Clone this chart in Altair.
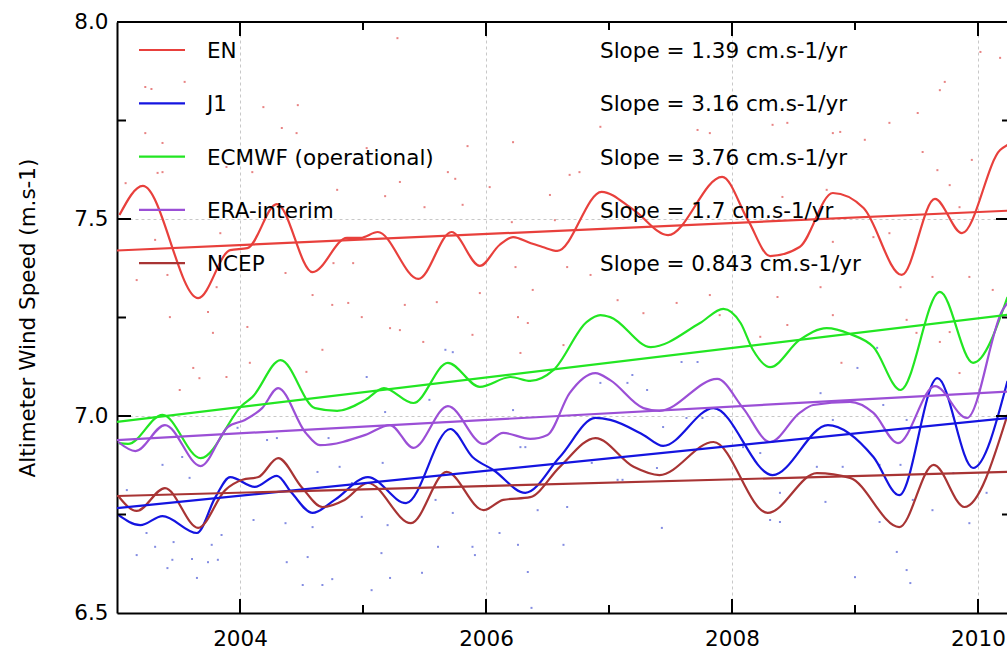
import altair as alt
import pandas as pd

# ---------------- data ----------------
series_names = ["EN", "J1", "ECMWF (operational)", "ERA-interim", "NCEP"]
series_colors = ["#e8403c", "#1414e0", "#22e622", "#9b4fd6", "#a83434"]
slope_labels = ["Slope = 1.39 cm.s-1/yr", "Slope = 3.16 cm.s-1/yr",
                "Slope = 3.76 cm.s-1/yr", "Slope = 1.7 cm.s-1/yr",
                "Slope = 0.843 cm.s-1/yr"]

en_years = [2003.02, 2003.21, 2003.66, 2003.92, 2004.06, 2004.30, 2004.59, 2004.87, 2004.98,
            2005.12, 2005.45, 2005.72, 2005.95, 2006.11, 2006.22, 2006.36, 2006.46, 2006.58,
            2006.94, 2007.20, 2007.48, 2007.92, 2008.13, 2008.31, 2008.55, 2008.82, 2009.07,
            2009.38, 2009.65, 2009.87, 2010.18, 2010.24]
en_values = [7.510, 7.584, 7.299, 7.421, 7.426, 7.538, 7.365, 7.452, 7.452,
             7.467, 7.348, 7.467, 7.381, 7.434, 7.454, 7.439, 7.429, 7.419,
             7.569, 7.523, 7.459, 7.607, 7.497, 7.406, 7.429, 7.566, 7.528,
             7.358, 7.551, 7.464, 7.675, 7.688]

j1_years = [2003.01, 2003.19, 2003.37, 2003.65, 2003.80, 2003.92, 2004.12, 2004.30, 2004.42,
            2004.59, 2004.77, 2005.04, 2005.35, 2005.71, 2005.89, 2006.06, 2006.32, 2006.60,
            2006.89, 2007.01, 2007.28, 2007.44, 2007.85, 2008.33, 2008.78, 2009.15, 2009.36,
            2009.67, 2009.96, 2010.24]
j1_values = [6.749, 6.723, 6.746, 6.703, 6.794, 6.845, 6.820, 6.848, 6.805,
             6.754, 6.787, 6.845, 6.779, 6.967, 6.896, 6.863, 6.805, 6.896,
             6.995, 6.990, 6.952, 6.924, 7.020, 6.850, 6.977, 6.896, 6.799,
             7.096, 6.868, 7.089]

ec_years = [2003.01, 2003.09, 2003.37, 2003.68, 2004.02, 2004.10, 2004.33, 2004.61, 2004.79,
            2005.02, 2005.17, 2005.41, 2005.69, 2005.95, 2006.20, 2006.36, 2006.55, 2006.82,
            2006.93, 2007.01, 2007.34, 2007.74, 2007.93, 2008.07, 2008.17, 2008.31, 2008.55,
            2008.77, 2008.96, 2009.15, 2009.37, 2009.69, 2009.96, 2010.24]
ec_values = [6.931, 6.929, 7.003, 6.893, 7.028, 7.048, 7.142, 7.020, 7.013,
             7.041, 7.071, 7.033, 7.135, 7.074, 7.099, 7.089, 7.117, 7.239,
             7.256, 7.251, 7.175, 7.236, 7.272, 7.236, 7.168, 7.124, 7.193,
             7.223, 7.208, 7.175, 7.066, 7.315, 7.135, 7.302]

era_years = [2003.01, 2003.15, 2003.39, 2003.68, 2003.90, 2004.04, 2004.18, 2004.31, 2004.53,
             2004.65, 2005.02, 2005.22, 2005.41, 2005.69, 2005.98, 2006.14, 2006.36, 2006.50,
             2006.68, 2006.89, 2007.01, 2007.28, 2007.41, 2007.88, 2008.09, 2008.31, 2008.55,
             2008.66, 2008.96, 2009.15, 2009.35, 2009.65, 2009.91, 2010.20, 2010.24]
era_values = [6.934, 6.911, 6.977, 6.873, 6.972, 6.990, 7.020, 7.071, 6.959,
              6.926, 6.952, 6.977, 6.919, 7.025, 6.929, 6.957, 6.942, 6.952,
              7.058, 7.109, 7.091, 7.020, 7.013, 7.094, 7.020, 6.934, 7.008,
              7.028, 7.036, 7.008, 6.931, 7.076, 6.995, 7.269, 7.287]

nc_years = [2003.01, 2003.16, 2003.39, 2003.66, 2003.88, 2004.02, 2004.15, 2004.31, 2004.50,
            2004.67, 2004.85, 2005.04, 2005.39, 2005.68, 2005.98, 2006.14, 2006.36, 2006.60,
            2006.89, 2007.20, 2007.41, 2007.85, 2008.29, 2008.69, 2008.96, 2009.36, 2009.64,
            2009.89, 2010.24]
nc_values = [6.797, 6.759, 6.817, 6.716, 6.812, 6.838, 6.845, 6.893, 6.820,
             6.769, 6.787, 6.830, 6.728, 6.858, 6.761, 6.787, 6.794, 6.871,
             6.944, 6.871, 6.850, 6.934, 6.754, 6.855, 6.843, 6.718, 6.876,
             6.769, 7.003]

# linear trends (end points of each fitted line)
trend_years = [2003.0, 2010.24]
trend_start = [7.420, 6.766, 6.985, 6.939, 6.797]
trend_end = [7.521, 6.995, 7.257, 7.062, 6.858]

# faint raw points
red_dot_years = [2005.28, 2003.55, 2003.23, 2003.28, 2004.19, 2004.47, 2004.34, 2004.46, 2003.23,
                 2003.37, 2005.85, 2005.03, 2003.89, 2004.10, 2003.33, 2003.37, 2003.07, 2005.69,
                 2005.75, 2005.30, 2004.79, 2005.18, 2005.50, 2005.81, 2006.03, 2003.31, 2003.84,
                 2004.76, 2004.37, 2003.81, 2003.41, 2003.16, 2004.92, 2005.60, 2005.95, 2004.59,
                 2004.99, 2005.34, 2004.75, 2004.88, 2004.06, 2003.74, 2003.43, 2010.02, 2010.18,
                 2009.73, 2009.69, 2009.51, 2009.28, 2008.88, 2009.08, 2006.93, 2008.33, 2008.45,
                 2008.82, 2006.22, 2006.68, 2006.76, 2006.52, 2009.55, 2009.67, 2009.77, 2006.21,
                 2006.56, 2009.95, 2007.72, 2007.82, 2008.41, 2008.77, 2009.85, 2009.15, 2009.28,
                 2008.82, 2006.24, 2006.38, 2006.66, 2006.85, 2007.55, 2007.82, 2008.37, 2008.47,
                 2008.72, 2009.37, 2009.63, 2009.93, 2010.12, 2006.26, 2006.34, 2007.07, 2007.28,
                 2007.90, 2008.82, 2009.42, 2004.54, 2004.67, 2003.62, 2003.67, 2003.51, 2005.22,
                 2005.30, 2005.49, 2005.89, 2003.78, 2004.08, 2003.89, 2008.45, 2008.23, 2009.50,
                 2009.77, 2009.69, 2006.28, 2006.63, 2008.89, 2009.85]
red_dot_values = [7.959, 7.848, 7.835, 7.830, 7.784, 7.789, 7.731, 7.718, 7.718,
                  7.693, 7.685, 7.680, 7.632, 7.619, 7.617, 7.619, 7.591, 7.619,
                  7.602, 7.594, 7.574, 7.558, 7.530, 7.536, 7.581, 7.447, 7.464,
                  7.388, 7.363, 7.327, 7.358, 7.345, 7.388, 7.289, 7.312, 7.307,
                  7.251, 7.282, 7.282, 7.287, 7.226, 7.264, 7.251, 7.924, 7.909,
                  7.848, 7.827, 7.769, 7.744, 7.721, 7.701, 7.734, 7.739, 7.744,
                  7.718, 7.695, 7.612, 7.619, 7.561, 7.670, 7.624, 7.586, 7.492,
                  7.497, 7.650, 7.726, 7.718, 7.556, 7.574, 7.530, 7.454, 7.464,
                  7.442, 7.378, 7.320, 7.378, 7.358, 7.287, 7.307, 7.302, 7.378,
                  7.327, 7.327, 7.353, 7.353, 7.320, 7.251, 7.236, 7.294, 7.261,
                  7.256, 7.256, 7.244, 7.112, 7.168, 7.122, 7.096, 7.066, 7.223,
                  7.218, 7.188, 7.206, 7.211, 7.135, 7.099, 7.231, 7.201, 7.211,
                  7.213, 7.188, 7.160, 7.180, 7.135, 7.109]

blue_dot_years = [2003.37, 2003.53, 2003.59, 2003.16, 2003.41, 2003.45, 2003.61, 2003.65, 2003.74,
                  2003.82, 2003.24, 2003.31, 2003.46, 2003.77, 2003.85, 2004.11, 2004.38, 2004.51,
                  2004.67, 2004.75, 2004.55, 2004.37, 2004.59, 2004.99, 2005.07, 2005.22, 2005.15,
                  2005.20, 2005.48, 2005.61, 2005.89, 2005.91, 2005.59, 2005.73, 2005.73, 2005.67,
                  2005.54, 2005.03, 2005.18, 2004.22, 2004.30, 2004.72, 2004.63, 2004.81, 2004.91,
                  2005.16, 2003.98, 2003.08, 2009.00, 2009.34, 2009.42, 2009.45, 2009.93, 2009.20,
                  2008.39, 2008.31, 2008.76, 2007.43, 2006.66, 2006.42, 2006.26, 2006.34, 2006.63,
                  2006.37, 2006.11, 2009.63, 2010.07, 2008.90, 2008.69, 2009.20, 2009.37, 2007.31,
                  2007.19, 2006.93, 2007.15, 2007.59, 2007.72, 2009.18, 2009.02, 2009.23, 2009.42,
                  2008.72, 2008.82, 2007.44, 2007.63, 2007.76, 2006.28, 2006.22, 2006.32, 2007.07,
                  2007.11, 2007.39, 2008.09, 2008.23, 2008.39, 2006.86, 2009.80, 2009.47]
blue_dot_values = [6.876, 6.896, 6.843, 6.647, 6.614, 6.635, 6.637, 6.589, 6.629,
                   6.635, 6.703, 6.668, 6.680, 6.673, 6.698, 6.736, 6.629, 6.571,
                   6.571, 6.586, 6.642, 6.728, 6.718, 6.744, 6.558, 6.589, 6.652,
                   6.723, 6.602, 6.668, 6.668, 6.647, 6.787, 6.754, 7.162, 7.168,
                   7.041, 7.099, 7.010, 6.939, 6.944, 6.944, 6.858, 6.871, 6.830,
                   6.881, 6.970, 6.812, 6.591, 6.655, 6.609, 6.576, 6.728, 6.731,
                   6.731, 6.736, 6.782, 6.716, 6.769, 6.761, 6.673, 6.604, 6.673,
                   6.513, 6.703, 6.761, 6.805, 6.871, 6.871, 6.876, 6.876, 7.066,
                   7.104, 7.084, 7.084, 7.137, 7.137, 7.173, 7.122, 7.028, 6.990,
                   7.058, 6.990, 6.972, 6.995, 6.995, 6.921, 7.015, 6.921, 6.838,
                   6.838, 6.868, 6.921, 6.906, 6.805, 6.881, 6.855, 6.787]

x_major_ticks = [2004, 2006, 2008, 2010]
x_minor_ticks = [2005, 2007, 2009]
y_labels = [6.5, 7.0, 7.5, 8.0]
y_major_ticks = [7.0, 7.5]
y_minor_ticks = [6.75, 7.25, 7.75]

# ---------------- layout ----------------
W, H = 890, 591
FONT = "DejaVu Sans"
FS = 21.5

x_scale = alt.Scale(domain=[2003.0, 2010.236], nice=False, zero=False)
y_scale = alt.Scale(domain=[6.5, 8.0], nice=False, zero=False)

x_axis = alt.Axis(values=x_major_ticks, format="d", tickSize=0, labelPadding=15,
                  labelFontSize=FS, labelFont=FONT, labelColor="black",
                  domainColor="black", domainWidth=2,
                  grid=True, gridDash=[3, 3], gridColor="#c8c8c8", gridWidth=1,
                  title=None)
y_axis = alt.Axis(values=y_labels, format=".1f", tickSize=0, labelPadding=9,
                  labelFontSize=FS, labelFont=FONT, labelColor="black",
                  domainColor="black", domainWidth=2,
                  grid=True, gridDash=[3, 3], gridColor="#c8c8c8", gridWidth=1,
                  title="Altimeter Wind Speed (m.s-1)", titleFont=FONT, titleFontSize=FS,
                  titleFontWeight="normal", titleColor="black", titleAngle=270,
                  titleX=-89, titleY=H / 2, titleAlign="center", titleBaseline="middle")


def X(field):
    return alt.X(f"{field}:Q", scale=x_scale, axis=x_axis)


def Y(field):
    return alt.Y(f"{field}:Q", scale=y_scale, axis=y_axis)


color_scale = alt.Scale(domain=series_names, range=series_colors)

# curves
curve_rows = []
for name, ys, vs in [("EN", en_years, en_values), ("J1", j1_years, j1_values),
                     ("ECMWF (operational)", ec_years, ec_values),
                     ("ERA-interim", era_years, era_values), ("NCEP", nc_years, nc_values)]:
    for yy, vv in zip(ys, vs):
        curve_rows.append({"series": name, "year": yy, "value": vv})
curves_df = pd.DataFrame(curve_rows)

trend_rows = []
for i, name in enumerate(series_names):
    trend_rows.append({"series": name, "year": trend_years[0], "value": trend_start[i]})
    trend_rows.append({"series": name, "year": trend_years[1], "value": trend_end[i]})
trend_df = pd.DataFrame(trend_rows)

red_df = pd.DataFrame({"year": red_dot_years, "value": red_dot_values})
blue_df = pd.DataFrame({"year": blue_dot_years, "value": blue_dot_values})

layers = []

red_dots = alt.Chart(red_df).mark_square(size=4, opacity=0.75, color="#e05a5a").encode(
    x=X("year"), y=Y("value"))
blue_dots = alt.Chart(blue_df).mark_square(size=4, opacity=0.75, color="#5a66d8").encode(
    x=X("year"), y=Y("value"))
layers += [red_dots, blue_dots]

curves = alt.Chart(curves_df).mark_line(strokeWidth=2.2, interpolate="monotone").encode(
    x=X("year"), y=Y("value"),
    color=alt.Color("series:N", scale=color_scale, legend=None),
    detail="series:N")
trends = alt.Chart(trend_df).mark_line(strokeWidth=2.2).encode(
    x=X("year"), y=Y("value"),
    color=alt.Color("series:N", scale=color_scale, legend=None),
    detail="series:N")
layers += [curves, trends]

# inward ticks and top border
xmaj = pd.DataFrame({"tick": x_major_ticks})
xmin = pd.DataFrame({"tick": x_minor_ticks})
ymaj = pd.DataFrame({"tick": y_major_ticks})
ymin = pd.DataFrame({"tick": y_minor_ticks})
tick_style = dict(color="black", strokeWidth=2)
layers += [
    alt.Chart(xmaj).mark_rule(**tick_style).encode(x=X("tick"), y=alt.value(H), y2=alt.value(H - 14)),
    alt.Chart(xmaj).mark_rule(**tick_style).encode(x=X("tick"), y=alt.value(0), y2=alt.value(14)),
    alt.Chart(xmin).mark_rule(**tick_style).encode(x=X("tick"), y=alt.value(H), y2=alt.value(H - 8)),
    alt.Chart(xmin).mark_rule(**tick_style).encode(x=X("tick"), y=alt.value(0), y2=alt.value(8)),
    alt.Chart(ymaj).mark_rule(**tick_style).encode(y=Y("tick"), x=alt.value(0), x2=alt.value(14)),
    alt.Chart(ymin).mark_rule(**tick_style).encode(y=Y("tick"), x=alt.value(0), x2=alt.value(9)),
    alt.Chart(ymaj).mark_rule(**tick_style).encode(y=Y("tick"), x=alt.value(W + 3), x2=alt.value(W - 11)),
    alt.Chart(ymin).mark_rule(**tick_style).encode(y=Y("tick"), x=alt.value(W + 3), x2=alt.value(W - 5)),
    alt.Chart(xmaj).mark_rule(**tick_style).encode(x=alt.value(0), x2=alt.value(W), y=alt.value(0)),
]

# legend and slope annotations
for i, name in enumerate(series_names):
    py = 28 + 53.3 * i
    row_df = pd.DataFrame({"name": [name], "slope": [slope_labels[i]]})
    layers.append(alt.Chart(row_df).mark_rule(strokeWidth=2.2, color=series_colors[i]).encode(
        x=alt.value(22), x2=alt.value(68), y=alt.value(py)))
    layers.append(alt.Chart(row_df).mark_text(align="left", baseline="middle", font=FONT,
                                              fontSize=FS, color="black", dy=2).encode(
        x=alt.value(90), y=alt.value(py), text="name:N"))
    layers.append(alt.Chart(row_df).mark_text(align="left", baseline="middle", font=FONT,
                                              fontSize=FS, color="black", dy=2).encode(
        x=alt.value(483), y=alt.value(py), text="slope:N"))

chart = alt.layer(*layers).properties(
    width=W, height=H,
    padding={"left": 117, "top": 22, "right": 0, "bottom": 37},
    autosize=alt.AutoSizeParams(type="none"),
    background="white",
).configure_view(stroke="transparent")

chart.save("out.html", embed_options={"renderer": "svg", "actions": False})
